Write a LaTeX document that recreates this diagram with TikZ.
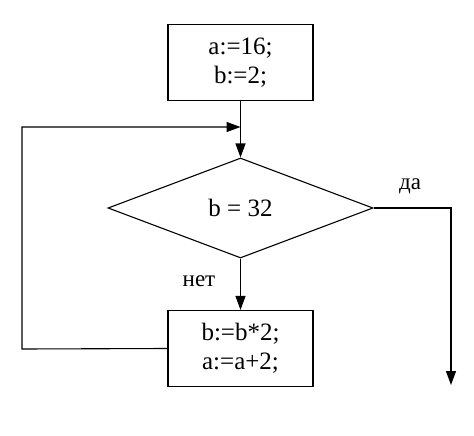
\documentclass[tikz,border=0pt]{standalone}
\usepackage{fontspec}
\setmainfont{Liberation Serif}
\usetikzlibrary{shapes.geometric,arrows.meta}
\begin{document}
\begin{tikzpicture}[x=1pt,y=-1pt,
  every node/.style={font=\fontsize{25}{29}\selectfont},
  proc/.style={draw,line width=1.1pt,minimum width=145pt,minimum height=76pt,align=center,inner sep=0pt},
  cond/.style={draw,line width=1.1pt,diamond,minimum width=265pt,minimum height=100pt,aspect=2.65,inner sep=0pt},
  flow/.style={line width=1.1pt,-{Triangle[length=14pt,width=10pt]}},
  conn/.style={line width=1.1pt}]
\useasboundingbox (0,0) rectangle (474,436);
\node[proc] (init) at (240.5,62.5) {a:=16;\\b:=2;};
\node[cond] (test) at (240.5,208) {b = 32};
\node[proc] (body) at (240.5,348.5) {b:=b*2;\\a:=a+2;};
\coordinate (join) at (240.5,127);
\coordinate (lp1) at (22,349);
\coordinate (lp2) at (22,127);
\coordinate (r1) at (451,208);
\coordinate (rend) at (451,385);
\draw[conn] (init.south) -- (join);
\draw[flow] (join) -- (test.north);
\draw[flow] (test.south) -- (body.north);
\draw[flow] (body.west) -- (lp1) -- (lp2) -- (join);
\draw[flow] (test.east) -- (r1) -- (rend);
\node[font=\fontsize{23}{24}\selectfont] (da) at (410,186) {да};
\node[font=\fontsize{23}{24}\selectfont] (net) at (199,281) {нет};
\end{tikzpicture}
\end{document}
